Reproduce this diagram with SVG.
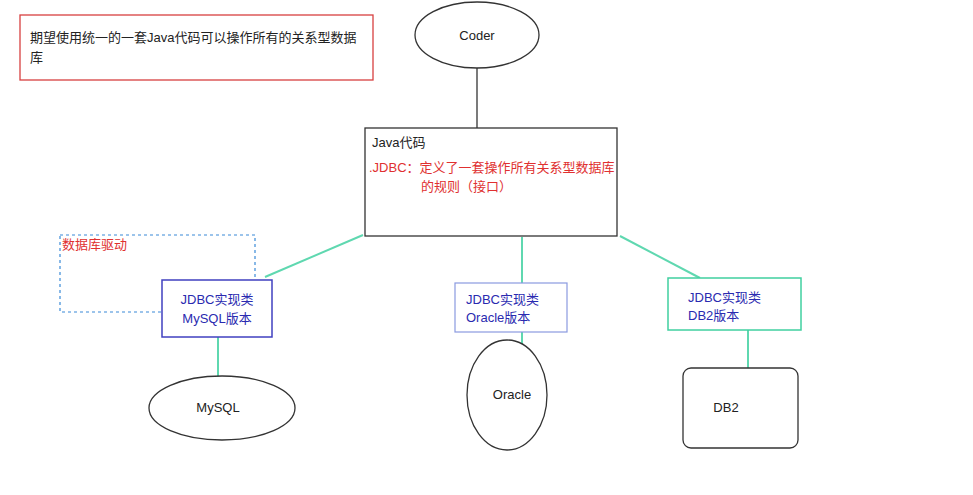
<svg xmlns="http://www.w3.org/2000/svg" width="973" height="495" viewBox="0 0 973 495">
<style>
text{font-family:"Liberation Sans","Noto Sans CJK SC",sans-serif;font-size:13px}
.k{fill:#222}.r{fill:#e03030}.b{fill:#2a2ab0}
.n{fill:#fff;stroke:#333;stroke-width:1.3}
.c{stroke:#5fd8b0;stroke-width:2;fill:none}
</style>
<rect width="973" height="495" fill="#fff"/>
<g id="note"><rect x="20" y="15" width="353" height="65" fill="#fff" stroke="#d84040" stroke-width="1.3"/>
<text x="30" y="42" class="k">期望使用统一的一套Java代码可以操作所有的关系型数据</text><text x="30" y="62" class="k">库</text></g>
<g id="connectors">
<line x1="477" y1="68" x2="477" y2="128" stroke="#333" stroke-width="1.3"/>
<line class="c" x1="363" y1="235" x2="265" y2="277"/>
<line class="c" x1="522" y1="237" x2="522" y2="283"/>
<line class="c" x1="620" y1="236" x2="700" y2="278"/>
<line class="c" x1="218" y1="337" x2="218" y2="378"/>
<line class="c" x1="522" y1="332" x2="522" y2="345"/>
<line class="c" x1="748" y1="330" x2="748" y2="368"/>
</g>
<g id="coder"><ellipse class="n" cx="477" cy="35" rx="62" ry="33"/><text x="477" y="40" class="k" text-anchor="middle">Coder</text></g>
<g id="java"><rect class="n" x="365" y="128" width="252" height="108"/>
<text x="372" y="147" class="k">Java代码</text>
<text x="369" y="172" class="r">.JDBC：定义了一套操作所有关系型数据库</text>
<text x="421" y="191" class="r">的规则（接口）</text></g>
<g id="driver"><rect x="60" y="235" width="195" height="77" fill="none" stroke="#3a8ad8" stroke-width="1.2" stroke-dasharray="3,3"/>
<text x="62" y="249" class="r">数据库驱动</text></g>
<g id="mysqlImpl"><rect x="162" y="280" width="110" height="57" fill="#fff" stroke="#4040c0" stroke-width="1.5"/>
<text x="217" y="304" class="b" text-anchor="middle">JDBC实现类</text><text x="217" y="323" class="b" text-anchor="middle">MySQL版本</text></g>
<g id="oracleImpl"><rect x="455" y="283" width="112" height="49" fill="#fff" stroke="#8a9ae0" stroke-width="1.2"/>
<text x="466" y="304" class="b">JDBC实现类</text><text x="466" y="322" class="b">Oracle版本</text></g>
<g id="db2Impl"><rect x="668" y="278" width="133" height="52" fill="#fff" stroke="#40d0a0" stroke-width="1.5"/>
<text x="688" y="302" class="b">JDBC实现类</text><text x="688" y="320" class="b">DB2版本</text></g>
<g id="mysql"><ellipse class="n" cx="222" cy="408" rx="73" ry="32"/><text x="218" y="412" class="k" text-anchor="middle">MySQL</text></g>
<g id="oracle"><ellipse class="n" cx="507" cy="395" rx="40" ry="55"/><text x="512" y="399" class="k" text-anchor="middle">Oracle</text></g>
<g id="db2"><rect class="n" x="683" y="368" width="115" height="80" rx="8"/><text x="726" y="412" class="k" text-anchor="middle">DB2</text></g>
</svg>
